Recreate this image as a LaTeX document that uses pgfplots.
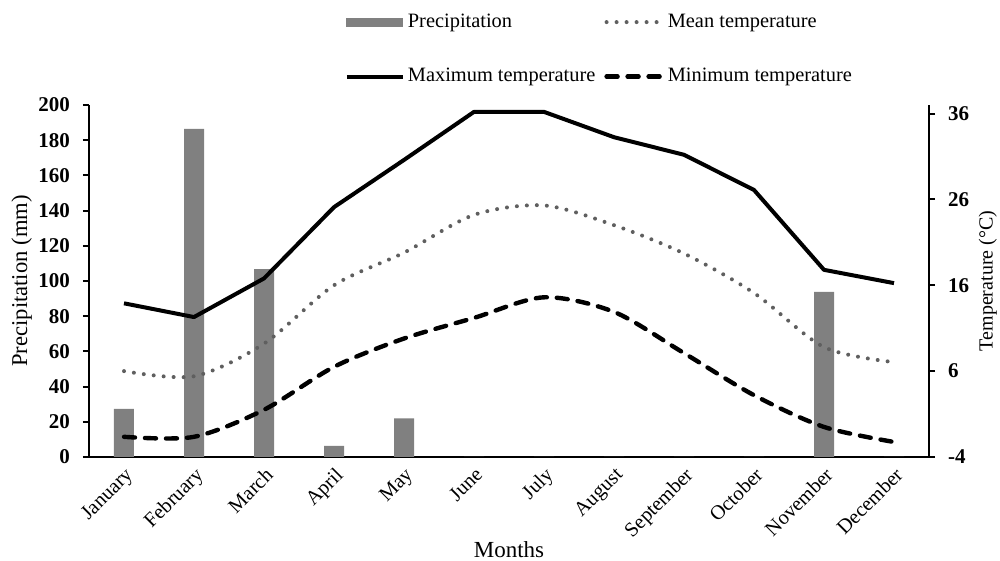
\documentclass[border=0pt]{standalone}
\usepackage{fontspec}
\setmainfont{Liberation Serif}
\usepackage{pgfplots}
\pgfplotsset{compat=1.18}
\definecolor{barcol}{RGB}{128,128,128}
\definecolor{meancol}{RGB}{95,95,95}
\begin{document}
\begin{tikzpicture}
\path[use as bounding box] (-44.5pt,-52pt) rectangle (455.5pt,228.5pt);
\begin{axis}[
  at={(0,0)}, anchor=south west,
  scale only axis, width=420pt, height=176pt,
  xmin=-0.5, xmax=11.5, ymin=0, ymax=200,
  axis x line*=bottom, axis y line*=left,
  axis line style={-, line width=1.2pt},
  xtick={0,...,11},
  xticklabels={January,February,March,April,May,June,July,August,September,October,November,December},
  x tick label style={rotate=45, anchor=north east, font=\fontsize{10.2}{12}\selectfont, inner sep=1pt},
  major x tick style={draw=none},
  ytick={0,20,...,200},
  y tick label style={font=\fontsize{10.5}{12}\selectfont\bfseries, xshift=-3pt},
  /pgf/number format/assume math mode=true,
  tick align=outside, major tick length=3pt,
  major y tick style={line width=1pt, black},
  ylabel={Precipitation (mm)},
  ylabel style={at={(axis description cs:-0.08,0.5)}, anchor=center, font=\fontsize{11.3}{14}\selectfont},
  xlabel={Months},
  xlabel style={at={(axis description cs:0.5,-0.264)}, anchor=center, font=\fontsize{11.5}{14}\selectfont},
]
\addplot[ybar, bar width=10pt, fill=barcol, draw=none] coordinates {
  (0,27.3) (1,186.4) (2,106.8) (3,6.3) (4,22) (5,0) (6,0) (7,0) (8,0) (9,0) (10,93.8) (11,0)};
\end{axis}
\begin{axis}[
  at={(0,0)}, anchor=south west,
  scale only axis, width=420pt, height=176pt,
  xmin=-0.5, xmax=11.5, ymin=-4, ymax=37,
  axis x line=none, axis y line*=right,
  axis line style={-, line width=1.2pt},
  ytick={-4,6,16,26,36},
  yticklabels={-4,6,16,26,36},
  y tick label style={font=\fontsize{10.5}{12}\selectfont\bfseries, xshift=3pt},
  tick align=outside, major tick length=3pt,
  major y tick style={line width=1pt, black},
  ylabel={Temperature (°C)},
  ylabel style={at={(axis description cs:1.07,0.5)}, anchor=center, font=\fontsize{10}{12}\selectfont},
  legend image code/.code={\draw[#1] (0pt,0pt) -- (28pt,0pt);},
  legend columns=2,
  legend cell align=left,
  legend style={draw=none, fill=none, at={(axis description cs:0.297,1.28)}, anchor=north west,
    font=\fontsize{10.2}{12}\selectfont, row sep=16pt, nodes={inner sep=1.5pt},
    /tikz/every even column/.append style={column sep=3pt}},
]
\addlegendimage{legend image code/.code={\fill[barcol] (0pt,-2pt) rectangle (28pt,2pt);}}
\addplot[smooth, meancol, line width=2pt, line cap=round, dash pattern=on 0pt off 5pt] coordinates {
  (0,6.0) (1,5.4) (2,9.2) (3,16.0) (4,19.8) (5,24.2) (6,25.3) (7,23.0) (8,19.7) (9,15.1) (10,8.8) (11,7.05)};
\addplot[black, line width=2pt, line join=round] coordinates {
  (0,13.9) (1,12.3) (2,16.8) (3,25.1) (4,30.6) (5,36.2) (6,36.2) (7,33.25) (8,31.2) (9,27.1) (10,17.8) (11,16.25)};
\addplot[smooth, black, line width=2.2pt, line cap=round, dash pattern=on 5.5pt off 5pt] coordinates {
  (0,-1.65) (1,-1.65) (2,1.5) (3,6.5) (4,9.8) (5,12.2) (6,14.6) (7,12.9) (8,8.1) (9,3.2) (10,-0.5) (11,-2.25)};
\legend{Precipitation, Mean temperature, Maximum temperature, Minimum temperature}
\end{axis}
\end{tikzpicture}
\end{document}
